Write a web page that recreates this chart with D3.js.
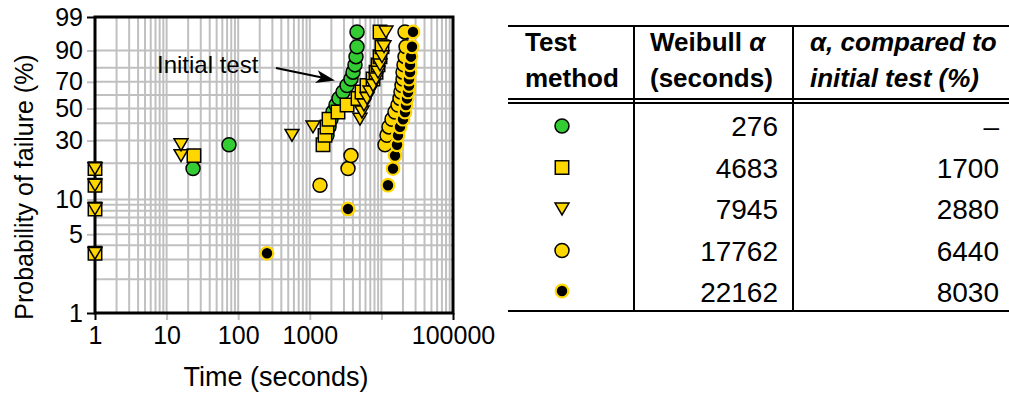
<!DOCTYPE html>
<html>
<head>
<meta charset="utf-8">
<script src="https://cdn.jsdelivr.net/npm/d3@7"></script>
<style>
  html, body { margin: 0; padding: 0; background: #fff; }
  svg { display: block; font-family: "Liberation Sans", Arial, sans-serif; }
</style>
</head>
<body>
<svg id="chart" width="1009" height="394"></svg>
<script>
// ---- data: failure times (s) and probability of failure (%) per test method ----
const greenTime = [23.4, 74.4, 1738, 1854, 1977, 2109, 2323, 2558, 2911, 3311, 3758, 4009, 4276, 4418, 4564, 4564];
const greenProb = [18.1, 27.9, 32.8, 37.7, 42.6, 47.5, 52.5, 57.4, 62.3, 67.2, 72.1, 77.0, 81.9, 86.8, 91.7, 96.6];

const squareTime = [1, 1, 1, 1, 24.1, 1528, 1630, 1738, 1854, 2477, 3311, 4713, 5357, 6294, 7638, 8414, 8974, 9560, 10190, 9560];
const squareProb = [3.4, 8.3, 13.2, 18.1, 23.0, 27.9, 32.8, 37.7, 42.6, 47.5, 52.5, 57.4, 62.3, 67.2, 72.1, 77.0, 81.9, 86.8, 91.7, 96.6];

const triangleTime = [1, 1, 1, 1, 15.9, 15.9, 564, 1108, 5023, 5357, 5713, 6294, 6934, 7638, 8414, 8974, 9560, 10190, 10870, 11590];
const triangleProb = [3.4, 8.3, 13.2, 18.1, 23.0, 27.9, 32.8, 37.7, 42.6, 47.5, 52.5, 57.4, 62.3, 67.2, 72.1, 77.0, 81.9, 86.8, 91.7, 96.6];

const yellowTime = [1388, 3417, 3758, 11230, 11970, 12770, 14060, 15490, 17060, 18190, 18790, 19400, 20040, 20040, 20690, 21370, 22070, 21370];
const yellowProb = [13.2, 18.1, 23.0, 27.9, 32.8, 37.7, 42.6, 47.5, 52.5, 57.4, 62.3, 67.2, 72.1, 77.0, 81.9, 86.8, 91.7, 96.6];

const blackTime = [252.6, 3417, 12360, 14520, 15490, 16510, 17060, 18190, 20040, 21370, 22070, 22790, 23530, 24290, 24290, 25090, 25090, 25910, 26750, 27620];
const blackProb = [3.4, 8.3, 13.2, 18.1, 23.0, 27.9, 32.8, 37.7, 42.6, 47.5, 52.5, 57.4, 62.3, 67.2, 72.1, 77.0, 81.9, 86.8, 91.7, 96.6];

// axis ticks
const xTicks = [1, 10, 100, 1000, 10000, 100000];
const xTickLabels = ["1", "10", "100", "1000", "", "100000"];
const yTicks = [1, 5, 10, 30, 50, 70, 90, 99];
const yGrid = [1, 2, 3, 4, 5, 6, 7, 8, 9, 10, 20, 30, 40, 50, 60, 70, 80, 90, 99];

// table
const tableHeader1 = ["Test", "method"];
const tableHeader2 = [["Weibull ", "α"], ["(seconds)", ""]];
const tableHeader3 = ["α, compared to", "initial test (%)"];
const tableAlpha = ["276", "4683", "7945", "17762", "22162"];
const tableRelative = ["–", "1700", "2880", "6440", "8030"];
const tableMarkers = ["greenCircle", "square", "triangle", "yellowCircle", "blackCircle"];

// ---- styling ----
const GREEN = "#33cc33";
const GOLD = "#ffd700";
const GRID = "#c0c0c0";

const svg = d3.select("#chart");
const plot = { left: 95, right: 453, top: 17, bottom: 313 };

// Weibull probability transform
const weib = p => Math.log(-Math.log(1 - p / 100));

const x = d3.scaleLog().domain([1, 100000]).range([plot.left, plot.right]);
const yw = d3.scaleLinear().domain([weib(1), weib(99)]).range([plot.bottom, plot.top]);
const y = p => yw(weib(p));

// grid
const xGrid = [];
for (let e = 0; e < 5; e++) for (let m = 1; m <= 9; m++) xGrid.push(m * Math.pow(10, e));

const grid = svg.append("g");
grid.selectAll("line.vx").data(xGrid.filter(v => v > 1)).join("line")
  .attr("x1", d => x(d)).attr("x2", d => x(d))
  .attr("y1", plot.top).attr("y2", plot.bottom)
  .attr("stroke", GRID).attr("stroke-width", 2);
grid.selectAll("line.hy").data(yGrid.filter(v => v > 1 && v < 99)).join("line")
  .attr("x1", plot.left).attr("x2", plot.right)
  .attr("y1", d => y(d)).attr("y2", d => y(d))
  .attr("stroke", GRID).attr("stroke-width", 2);

// axes through d3-axis, styled to the grey/black tick look
const xAxis = d3.axisBottom(x).tickValues(xTicks).tickFormat((d, i) => xTickLabels[i]).tickSize(7).tickPadding(6);
const gx = svg.append("g").attr("transform", `translate(0,${plot.bottom})`).call(xAxis);
gx.select(".domain").remove();
gx.selectAll(".tick line").attr("stroke", (d) => (d === 1 || d === 100000) ? "#000" : GRID).attr("stroke-width", 2);
gx.selectAll(".tick text").attr("font-size", 25).attr("fill", "#000").attr("font-family", "Liberation Sans, Arial, sans-serif");

const yAxis = d3.axisLeft(yw).tickValues(yTicks.map(weib)).tickFormat((d, i) => String(yTicks[i])).tickSize(8).tickPadding(4);
const gy = svg.append("g").attr("transform", `translate(${plot.left},0)`).call(yAxis);
gy.select(".domain").remove();
gy.selectAll(".tick line").attr("stroke", (d, i) => (i === 0 || i === yTicks.length - 1) ? "#000" : GRID).attr("stroke-width", 2);
gy.selectAll(".tick text").attr("font-size", 25).attr("fill", "#000").attr("font-family", "Liberation Sans, Arial, sans-serif");

// frame
svg.append("rect")
  .attr("x", plot.left).attr("y", plot.top)
  .attr("width", plot.right - plot.left).attr("height", plot.bottom - plot.top)
  .attr("fill", "none").attr("stroke", "#000").attr("stroke-width", 3);

// axis titles
svg.append("text").attr("x", 276).attr("y", 386).attr("text-anchor", "middle")
  .attr("font-size", 27).text("Time (seconds)");
svg.append("text").attr("transform", "translate(33,187) rotate(-90)").attr("text-anchor", "middle")
  .attr("font-size", 25).text("Probability of failure (%)");

// markers
const sym = {
  square: d3.symbol().type(d3.symbolSquare).size(180),
  triangle: d3.symbol().type({
    draw(ctx, size) {
      const w = Math.sqrt(size) * 1.1, h = w * 0.85;
      ctx.moveTo(-w / 2, -h / 2); ctx.lineTo(w / 2, -h / 2); ctx.lineTo(0, h / 2); ctx.closePath();
    }
  }).size(160)
};

function drawMarker(g, kind, cx, cy) {
  if (kind === "greenCircle") {
    g.append("circle").attr("cx", cx).attr("cy", cy).attr("r", 7).attr("fill", GREEN).attr("stroke", "#000").attr("stroke-width", 1.5);
  } else if (kind === "yellowCircle") {
    g.append("circle").attr("cx", cx).attr("cy", cy).attr("r", 7).attr("fill", GOLD).attr("stroke", "#000").attr("stroke-width", 1.5);
  } else if (kind === "blackCircle") {
    g.append("circle").attr("cx", cx).attr("cy", cy).attr("r", 6.3).attr("fill", "#000").attr("stroke", GOLD).attr("stroke-width", 2.2);
  } else {
    g.append("path").attr("transform", `translate(${cx},${cy})`).attr("d", sym[kind]())
      .attr("fill", GOLD).attr("stroke", "#000").attr("stroke-width", 1.5);
  }
}

function drawSeries(times, probs, kind) {
  const g = svg.append("g");
  times.forEach((t, i) => drawMarker(g, kind, x(t), y(probs[i])));
}

drawSeries(greenTime, greenProb, "greenCircle");
drawSeries(squareTime, squareProb, "square");
drawSeries(triangleTime, triangleProb, "triangle");
drawSeries(yellowTime, yellowProb, "yellowCircle");
drawSeries(blackTime, blackProb, "blackCircle");

// annotation: label with arrow pointing at the green series
svg.append("text").attr("x", 157).attr("y", 73).attr("font-size", 24).text("Initial test");
svg.append("line").attr("x1", 276).attr("y1", 68).attr("x2", 322).attr("y2", 77.5)
  .attr("stroke", "#000").attr("stroke-width", 2.2);
svg.append("path")
  .attr("transform", `translate(335,80.5) rotate(${Math.atan2(12.5, 59) * 180 / Math.PI})`)
  .attr("d", "M0,0 L-19,-6.5 L-14,0 L-19,6.5 Z").attr("fill", "#000");

// ---- table ----
const tb = svg.append("g");
const tLeft = 508, tRight = 1009, col1 = 634, col2 = 793;
const tTop = 26, tHead = 100, tBottom = 311;
const rowY = [126, 167.5, 209, 250.5, 291];

tb.append("line").attr("x1", tLeft).attr("x2", tRight).attr("y1", tTop).attr("y2", tTop).attr("stroke", "#000").attr("stroke-width", 2);
tb.append("line").attr("x1", tLeft).attr("x2", tRight).attr("y1", tHead - 1).attr("y2", tHead - 1).attr("stroke", "#000").attr("stroke-width", 2);
tb.append("line").attr("x1", tLeft).attr("x2", tRight).attr("y1", tHead + 3).attr("y2", tHead + 3).attr("stroke", "#000").attr("stroke-width", 2);
tb.append("line").attr("x1", tLeft).attr("x2", tRight).attr("y1", tBottom).attr("y2", tBottom).attr("stroke", "#000").attr("stroke-width", 2);
[col1, col2].forEach(cx => {
  tb.append("line").attr("x1", cx).attr("x2", cx).attr("y1", tTop).attr("y2", tBottom).attr("stroke", "#000").attr("stroke-width", 2);
});

tableHeader1.forEach((s, i) => {
  tb.append("text").attr("x", 525).attr("y", 51 + i * 36)
    .attr("font-size", 26).attr("font-weight", "bold").text(s);
});
tableHeader2.forEach((parts, i) => {
  const t = tb.append("text").attr("x", 650).attr("y", 51 + i * 36)
    .attr("font-size", 26).attr("font-weight", "bold");
  t.append("tspan").text(parts[0]);
  if (parts[1]) t.append("tspan").attr("font-style", "italic").text(parts[1]);
});
tableHeader3.forEach((s, i) => {
  tb.append("text").attr("x", 810).attr("y", 51 + i * 36)
    .attr("font-size", 26).attr("font-weight", "bold").attr("font-style", "italic").text(s);
});

tableAlpha.forEach((s, i) => {
  tb.append("text").attr("x", 778).attr("y", [136, 177.5, 219, 260.5, 302][i]).attr("text-anchor", "end").attr("font-size", 28).text(s);
  tb.append("text").attr("x", 999).attr("y", [136, 177.5, 219, 260.5, 302][i]).attr("text-anchor", "end").attr("font-size", 28).text(tableRelative[i]);
  drawMarker(tb, tableMarkers[i], 562, rowY[i]);
});
</script>
</body>
</html>
